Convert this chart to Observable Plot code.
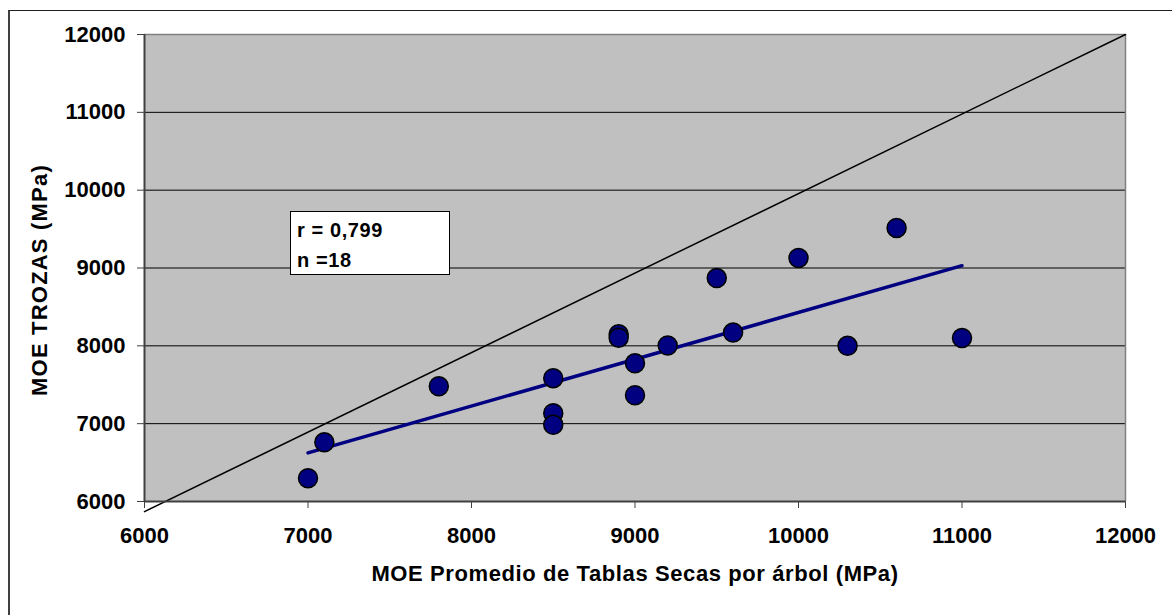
<!DOCTYPE html>
<html>
<head>
<meta charset="utf-8">
<script src="https://cdn.jsdelivr.net/npm/d3@7"></script>
<script src="https://cdn.jsdelivr.net/npm/@observablehq/plot@0.6"></script>
<style>
  html, body { margin: 0; padding: 0; background: #fff; }
  #wrap { position: relative; width: 1172px; height: 615px; overflow: hidden; }
  #border { position: absolute; left: 8px; top: 10px; width: 1300px; height: 800px;
            border-left: 2px solid #404040; border-top: 1px solid #202020; pointer-events: none; }
  #stats { position: absolute; left: 290px; top: 211px; width: 160px; height: 64px;
           background: #fff; border: 1.5px solid #000; box-sizing: border-box;
           font-family: "Liberation Sans", Arial, sans-serif; font-weight: bold; font-size: 20px;
           letter-spacing: 0.6px; line-height: 30px; padding: 3px 0 0 6px; color: #000; }
  .xlab text { letter-spacing: 0.6px; }
  .ylab text { letter-spacing: 1.2px; }
</style>
</head>
<body>
<div id="wrap">
  <div id="chart"></div>
  <div id="border"></div>
  <div id="stats"><div id="r"></div><div id="n"></div></div>
</div>
<script>
// Data
const xValues = [7000, 7100, 7800, 8500, 8500, 8500, 8900, 8900, 9000, 9000, 9200, 9500, 9600, 10000, 10300, 10600, 11000];
const yValues = [6300, 6760, 7480, 7585, 7135, 6985, 8150, 8105, 7775, 7365, 8005, 8870, 8170, 9130, 8000, 9515, 8100];
const trendX = [7000, 11000];
const trendY = [6625, 9030];
const refX = [6000, 12000];
const refY = [5870, 12000];
const xTicks = [6000, 7000, 8000, 9000, 10000, 11000, 12000];
const yTicks = [6000, 7000, 8000, 9000, 10000, 11000, 12000];
const gridY = [7000, 8000, 9000, 10000, 11000];
const statR = "r = 0,799";
const statN = "n =18";
const xLabel = "MOE Promedio de Tablas Secas por árbol (MPa)";
const yLabel = "MOE TROZAS (MPa)";

const points = xValues.map((x, i) => ({x, y: yValues[i]}));
const trend = trendX.map((x, i) => ({x, y: trendY[i]}));
const ref = refX.map((x, i) => ({x, y: refY[i]}));

const chart = Plot.plot({
  width: 1172,
  height: 615,
  marginLeft: 144,
  marginRight: 47,
  marginTop: 34,
  marginBottom: 114,
  style: {fontFamily: "'Liberation Sans', Arial, sans-serif", fontSize: "22px", fontWeight: "bold", color: "#000", background: "transparent"},
  x: {domain: [6000, 12000]},
  y: {domain: [6000, 12000]},
  marks: [
    Plot.frame({fill: "#c0c0c0", stroke: null}),
    Plot.ruleY(gridY, {stroke: "#000", strokeWidth: 1}),
    Plot.ruleY([yTicks[yTicks.length - 1]], {stroke: "#808080", strokeWidth: 1.5}),
    Plot.ruleX([xTicks[xTicks.length - 1]], {stroke: "#808080", strokeWidth: 1.5}),
    Plot.line(ref, {x: "x", y: "y", stroke: "#000", strokeWidth: 1.5, clip: false}),
    Plot.line(trend, {x: "x", y: "y", stroke: "#000080", strokeWidth: 3.5}),
    Plot.dot(points, {x: "x", y: "y", r: 9.5, fill: "#000080", stroke: "#000", strokeWidth: 1.5}),
    Plot.ruleY([yTicks[0]], {stroke: "#404040", strokeWidth: 2}),
    Plot.ruleX([xTicks[0]], {stroke: "#404040", strokeWidth: 2}),
    Plot.axisX({ticks: xTicks, tickFormat: d => String(d), tickSize: 7, tickPadding: 19, stroke: "#404040", label: null}),
    Plot.axisY({ticks: yTicks, tickFormat: d => String(d), tickSize: 7, tickPadding: 12, stroke: "#404040", label: null}),
    Plot.text([xLabel], {text: d => d, frameAnchor: "bottom", dy: 79, lineAnchor: "bottom", className: "xlab"}),
    Plot.text([yLabel], {text: d => d, frameAnchor: "left", textAnchor: "middle", rotate: -90, dx: -105, dy: 12, lineAnchor: "middle", className: "ylab"})
  ]
});
document.getElementById("chart").appendChild(chart);
document.getElementById("r").textContent = statR;
document.getElementById("n").textContent = statN;
</script>
</body>
</html>
